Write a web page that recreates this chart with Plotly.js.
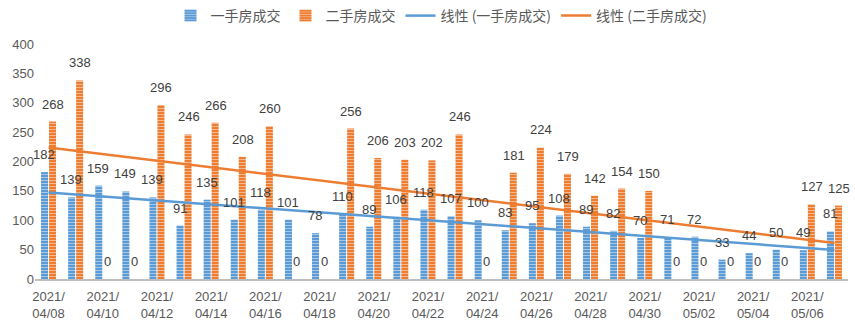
<!DOCTYPE html>
<html><head><meta charset="utf-8">
<script src="https://cdn.plot.ly/plotly-3.0.1.min.js"></script>
<style>body{margin:0;background:#fff}#c{width:855px;height:322px}</style>
</head><body><div id="c"></div>
<script>
const dates = ["04/08","04/09","04/10","04/11","04/12","04/13","04/14","04/15","04/16","04/17","04/18","04/19","04/20","04/21","04/22","04/23","04/24","04/25","04/26","04/27","04/28","04/29","04/30","05/01","05/02","05/03","05/04","05/05","05/06","05/07"];
const newHomes = [182,139,159,149,139,91,135,101,118,101,78,110,89,106,118,107,100,83,95,108,89,82,70,71,72,33,44,50,49,81];
const resale = [268,338,0,0,296,246,266,208,260,0,0,256,206,203,202,246,0,181,224,179,142,154,150,0,0,0,0,0,127,125];
const tickDates = ["04/08","04/10","04/12","04/14","04/16","04/18","04/20","04/22","04/24","04/26","04/28","04/30","05/02","05/04","05/06"];
const year = "2021";

function linfit(ys){
  const n=ys.length; let sx=0,sy=0,sxx=0,sxy=0;
  ys.forEach((y,i)=>{const x=i+1;sx+=x;sy+=y;sxx+=x*x;sxy+=x*y;});
  const b=(n*sxy-sx*sy)/(n*sxx-sx*sx), a=(sy-b*sx)/n;
  return ys.map((_,i)=>a+b*(i+1));
}
const blue="#5B9BD5", orange="#ED7D31";
const numFont={family:"Liberation Sans, Arial, sans-serif",size:13,color:"#404040"};
function barTrace(name,ys,color){
  return {type:"bar",name:name,x:dates,y:ys,hoverinfo:"skip",
    marker:{color:color,line:{width:0},pattern:{shape:"-",fgcolor:"#ffffff",size:3,solidity:0.3,fillmode:"overlay"}}};
}
const traces=[
 barTrace("一手房成交",newHomes,blue),
 barTrace("二手房成交",resale,orange),
 {type:"scatter",mode:"lines",name:"线性 (一手房成交)",x:dates,y:linfit(newHomes),line:{color:blue,width:2.5},hoverinfo:"skip"},
 {type:"scatter",mode:"lines",name:"线性 (二手房成交)",x:dates,y:linfit(resale),line:{color:orange,width:2.5},hoverinfo:"skip"}
];
function labels(ys,shift){
  return ys.map((v,i)=>({x:dates[i],y:v,xref:"x",yref:"y",text:String(v),showarrow:false,
    yanchor:"bottom",xanchor:"center",xshift:shift,yshift:8,font:numFont}));
}
const layout={
 width:855,height:322,paper_bgcolor:"#fff",plot_bgcolor:"#fff",
 margin:{l:35,r:7,t:44,b:43},
 barmode:"group",bargap:0.41,bargroupgap:0.12,
 showlegend:true,
 legend:{orientation:"h",x:0.5,xanchor:"center",y:1,yanchor:"top",yref:"container",
   font:{family:"Noto Sans CJK SC, sans-serif",size:14,color:"#595959"},traceorder:"normal"},
 xaxis:{type:"category",categoryorder:"array",categoryarray:dates,range:[-0.5,dates.length-0.5],tickmode:"array",tickvals:tickDates,
   ticktext:tickDates.map(d=>year+"/<br>"+d),tickangle:0,showgrid:false,zeroline:false,automargin:false,
   showline:true,linecolor:"#bfbfbf",linewidth:2,ticks:"",ticklabelstandoff:4,
   tickfont:{family:"Liberation Sans, Arial, sans-serif",size:13,color:"#595959"}},
 yaxis:{range:[0,400],dtick:50,showgrid:false,zeroline:false,showline:false,ticks:"",automargin:false,
   tickfont:{family:"Liberation Sans, Arial, sans-serif",size:13,color:"#595959"}},
 annotations:labels(newHomes,-4.5).concat(labels(resale,4.5))
};
Plotly.newPlot("c",traces,layout,{displayModeBar:false,staticPlot:true});
</script></body></html>
